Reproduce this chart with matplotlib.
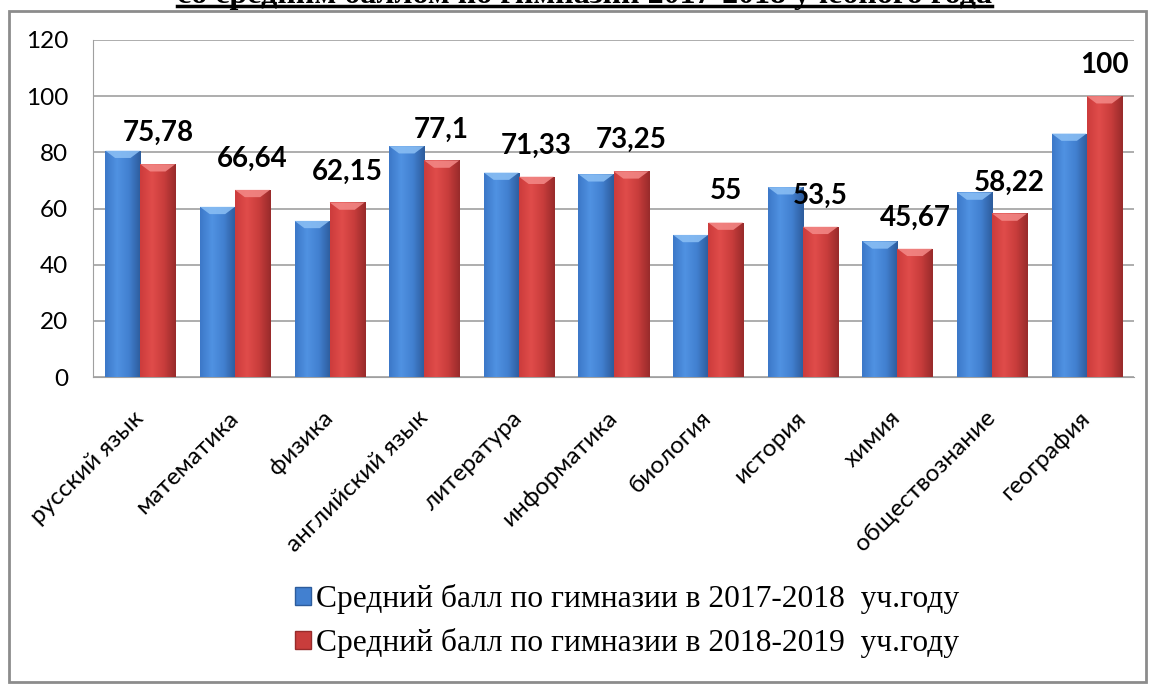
import matplotlib
matplotlib.use("Agg")
import matplotlib.pyplot as plt
import numpy as np
from matplotlib.patches import Rectangle, Polygon
from matplotlib.colors import LinearSegmentedColormap

subjects = ["русский язык", "математика", "физика", "английский язык", "литература",
            "информатика", "биология", "история", "химия", "обществознание", "география"]
avg_2017 = [80.6, 60.6, 55.6, 82.2, 72.8, 72.2, 50.6, 67.6, 48.3, 65.7, 86.7]
avg_2018 = [75.78, 66.64, 62.15, 77.1, 71.33, 73.25, 55, 53.5, 45.67, 58.22, 100]
labels_2018 = ["75,78", "66,64", "62,15", "77,1", "71,33", "73,25", "55", "53,5", "45,67", "58,22", "100"]
series_names = ["Средний балл по гимназии в 2017-2018  уч.году",
                "Средний балл по гимназии в 2018-2019  уч.году"]
title_text = "со средним баллом по гимназии 2017-2018 учебного года"

W, H = 1151, 686
fig = plt.figure(figsize=(W / 100, H / 100), dpi=100)

# рамка вокруг диаграммы
fig.patches.append(Rectangle((9 / W, 1 - 682 / H), (1146 - 9) / W, (682 - 11) / H,
                             transform=fig.transFigure, fill=False,
                             edgecolor="#8c8c8c", lw=2))

# заголовок, обрезанный верхним краем (как на исходной картинке)
t = fig.text(0.508, 1 - 3 / H, title_text, ha="center", va="baseline",
             family="Liberation Serif", weight="bold", fontsize=23)
fig.canvas.draw()
bb = t.get_window_extent().transformed(fig.transFigure.inverted())
fig.lines.append(plt.Line2D([bb.x0, bb.x1], [1 - 6 / H, 1 - 6 / H],
                            transform=fig.transFigure, color="black", lw=2.5))

ax = fig.add_axes([93 / W, 1 - 377 / H, (1134 - 93) / W, (377 - 40) / H])

x = np.arange(len(subjects))
w = 0.37

blue_cmap = LinearSegmentedColormap.from_list("b", ["#3c78c8", "#5092e2", "#4280d0", "#2d5c9c"])
red_cmap = LinearSegmentedColormap.from_list("r", ["#cc3c3c", "#e04c4a", "#c93d3c", "#982b2b"])
cap_colors = ["#8cc0f5", "#f48a88"]

grad = np.linspace(0, 1, 64).reshape(1, -1)


def shaded_bars(xs, vals, cmap, cap):
    bars = ax.bar(xs, vals, w, color="none", edgecolor="none", zorder=3)
    for b in bars:
        x0, x1 = b.get_x(), b.get_x() + b.get_width()
        h = b.get_height()
        im = ax.imshow(grad, cmap=cmap, extent=(x0, x1, 0, h), aspect="auto",
                       interpolation="bicubic", zorder=3)
        im.set_clip_path(b)
        # верхняя фаска
        d = 2.6
        inset = b.get_width() * 0.28
        ax.add_patch(Polygon([(x0, h), (x1, h), (x1 - inset, h - d), (x0 + inset, h - d)],
                             closed=True, color=cap, alpha=0.85, lw=0, zorder=4))
    return bars


shaded_bars(x - w / 2, avg_2017, blue_cmap, cap_colors[0])
red_bars = shaded_bars(x + w / 2, avg_2018, red_cmap, cap_colors[1])

for b, lab in zip(red_bars, labels_2018):
    ax.annotate(lab, (b.get_x() + b.get_width() / 2, b.get_height()),
                xytext=(0, 13), textcoords="offset points", ha="center", va="bottom",
                family="Lato", weight="bold", fontsize=20, zorder=6)

ax.set_xlim(-0.5, len(subjects) - 0.5)
ax.set_ylim(0, 120)
ax.set_yticks(np.arange(0, 121, 20))
ax.yaxis.grid(True, color="#a0a0a0", lw=1.2)
ax.set_axisbelow(True)
for s in ["top", "right"]:
    ax.spines[s].set_visible(False)
ax.spines["left"].set_color("#a0a0a0")
ax.spines["bottom"].set_color("#a0a0a0")
ax.tick_params(axis="both", length=0)
ax.tick_params(axis="y", pad=18, labelsize=17.5)
ax.set_xticks(x)
ax.set_xticklabels(subjects, rotation=45, ha="right", va="center",
                   rotation_mode="anchor", fontsize=17.5, family="Lato")
ax.tick_params(axis="x", pad=27)
for lab in ax.get_yticklabels():
    lab.set_family("Lato")

handles = [Rectangle((0, 0), 1, 1, facecolor="#4280d0", edgecolor="#2d5c9c"),
           Rectangle((0, 0), 1, 1, facecolor="#c93d3c", edgecolor="#982b2b")]
fig.legend(handles, series_names, loc="center", bbox_to_anchor=(627 / W, 1 - 621 / H),
           frameon=False, prop={"family": "Liberation Serif", "size": 22.7},
           handlelength=0.5, handleheight=0.5, handletextpad=0.15, labelspacing=0.45)

plt.savefig("out.png", dpi=100)
